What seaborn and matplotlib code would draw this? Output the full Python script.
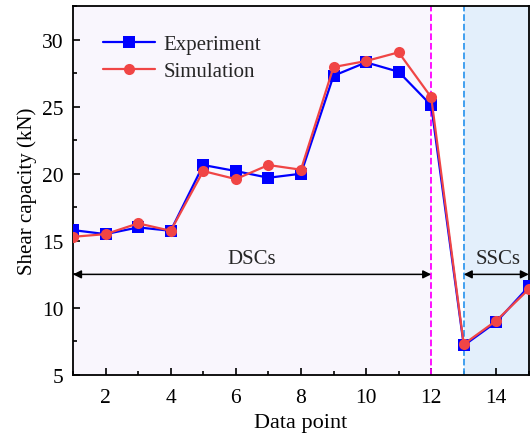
import matplotlib
matplotlib.use("Agg")
import matplotlib.pyplot as plt
import seaborn as sns
import pandas as pd
from matplotlib.ticker import MultipleLocator

sns.set_theme(style="ticks")
plt.rcParams['font.family'] = ['Liberation Serif', 'DejaVu Serif']
plt.rcParams['mathtext.fontset'] = 'stix'

points = list(range(1, 16))
experiment = [15.8, 15.5, 16.0, 15.75, 20.65, 20.2, 19.7, 20.0, 27.3, 28.3, 27.6, 25.1, 7.2, 8.95, 11.6]
simulation = [15.3, 15.5, 16.3, 15.75, 20.2, 19.6, 20.65, 20.3, 27.95, 28.4, 29.05, 25.7, 7.3, 9.05, 11.4]

df = pd.DataFrame({"Data point": points + points,
                   "Shear capacity (kN)": experiment + simulation,
                   "Series": ["Experiment"] * len(points) + ["Simulation"] * len(points)})

fig = plt.figure(figsize=(5.31, 4.39), dpi=100)
ax = fig.add_axes([0.1375, 0.1435, 0.8585, 0.8405])

ax.axvspan(1, 12, color="#f9f6fd", zorder=0, lw=0)
ax.axvspan(13, 15, color="#e3effb", zorder=0, lw=0)

sns.lineplot(data=df, x="Data point", y="Shear capacity (kN)", hue="Series", style="Series",
             palette={"Experiment": "#0000ff", "Simulation": "#f04545"},
             markers={"Experiment": "s", "Simulation": "o"}, dashes=False,
             markersize=8, markeredgewidth=0, linewidth=1.6, ax=ax, zorder=3)

ax.axvline(12, color="#ff00ff", ls="--", lw=1.3, zorder=2)
ax.axvline(13, color="#3399ee", ls="--", lw=1.3, zorder=2)

ax.annotate("", xy=(1, 12.5), xytext=(12, 12.5),
            arrowprops=dict(arrowstyle="<|-|>", color="black", lw=1.1, mutation_scale=12, shrinkA=0, shrinkB=0))
ax.annotate("", xy=(13, 12.5), xytext=(15, 12.5),
            arrowprops=dict(arrowstyle="<|-|>", color="black", lw=1.1, mutation_scale=12, shrinkA=0, shrinkB=0))
ax.text(6.5, 13.0, "DSCs", fontsize=15, ha="center", va="bottom")
ax.text(14.05, 13.0, "SSCs", fontsize=15, ha="center", va="bottom")

ax.set_xlim(1, 15)
ax.set_ylim(5, 32.5)
ax.xaxis.set_major_locator(MultipleLocator(2))
ax.xaxis.set_minor_locator(MultipleLocator(1))
ax.yaxis.set_major_locator(MultipleLocator(5))
ax.yaxis.set_minor_locator(MultipleLocator(2.5))
ax.tick_params(which="both", direction="in", labelsize=15.5, width=1.2, color="black", labelcolor="black")
ax.tick_params(which="major", length=5)
ax.tick_params(which="minor", length=3)
ax.tick_params(axis="x", which="both", pad=9)
ax.tick_params(axis="y", which="both", pad=7)
ax.set_xlabel("Data point", fontsize=16, color="black", labelpad=5)
ax.set_ylabel("Shear capacity (kN)", fontsize=15, color="black", labelpad=3)
for s in ax.spines.values():
    s.set_linewidth(1.3)
    s.set_color("black")
ax.grid(False)

leg = ax.legend(title=None, loc="upper left", bbox_to_anchor=(0.047, 0.945), frameon=False,
                fontsize=15, handlelength=2.5, handletextpad=0.4, labelspacing=0.35, borderaxespad=0)

fig.savefig("out.png", dpi=100)
